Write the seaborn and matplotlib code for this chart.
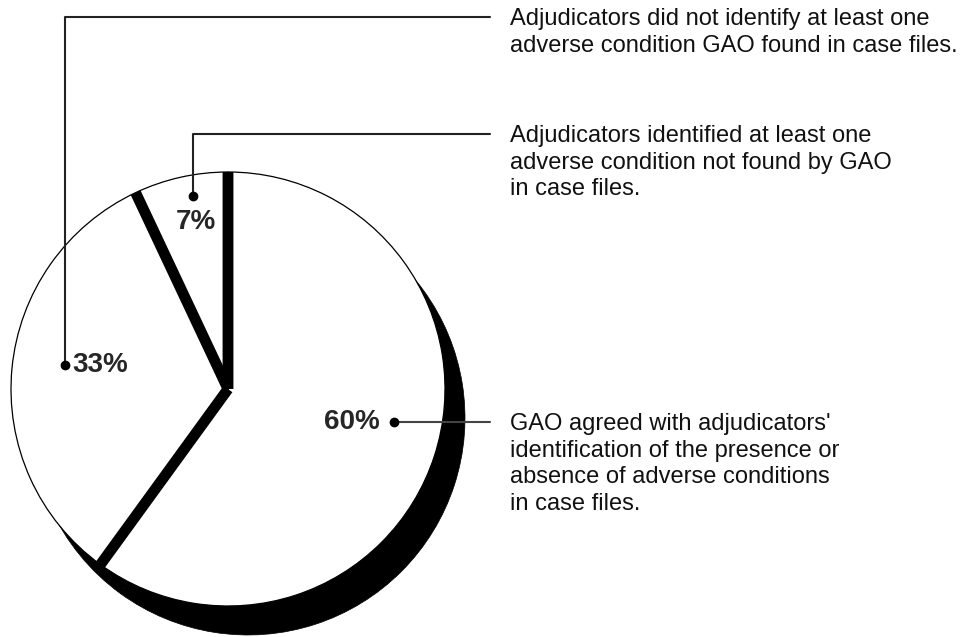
import matplotlib
matplotlib.use("Agg")
import matplotlib.pyplot as plt
import numpy as np
import seaborn as sns

# ---- data ----
categories = ["GAO agreed", "Did not identify", "Identified not found"]
shares = [60, 33, 7]
pct_labels = ["60%", "33%", "7%"]
desc_60 = ["GAO agreed with adjudicators'",
           "identification of the presence or",
           "absence of adverse conditions",
           "in case files."]
desc_33 = ["Adjudicators did not identify at least one",
           "adverse condition GAO found in case files."]
desc_7 = ["Adjudicators identified at least one",
          "adverse condition not found by GAO",
          "in case files."]

sns.set_theme(style="white")
plt.rcParams['font.family'] = ['Liberation Sans', 'DejaVu Sans']

W, H = 978, 637
fig = plt.figure(figsize=(W / 100, H / 100), dpi=100)
ax = fig.add_axes([0, 0, 1, 1])

def Y(y):
    return H - y

cx, cy, R = 228, 389, 217
shadow_dx, shadow_dy = 20, 29

# shadow / thickness
ax.pie(shares, startangle=90, counterclock=False,
       center=(cx + shadow_dx, Y(cy + shadow_dy)), radius=R,
       colors=["black"] * len(shares),
       wedgeprops=dict(edgecolor="black", linewidth=0.5, zorder=1))

# top face
wedges, _ = ax.pie(shares, startangle=90, counterclock=False,
                   center=(cx, Y(cy)), radius=R,
                   colors=["white"] * len(shares),
                   wedgeprops=dict(edgecolor="black", linewidth=0.9, zorder=2))
for w in wedges:
    w.set_zorder(2)

# thick separators at wedge boundaries
for w in wedges:
    ang = np.deg2rad(w.theta1)
    ax.plot([cx, cx + R * np.cos(ang)], [Y(cy), Y(cy) + R * np.sin(ang)],
            color="black", lw=7.8, solid_capstyle="butt", zorder=3)

body_fs = 17
lab_fs = 20
text_x = 510
line_dy = 26.5
lc = "#222222"

def desc(lines, y0):
    for i, t in enumerate(lines):
        ax.text(text_x, Y(y0 + 8 + i * line_dy), t, fontsize=body_fs,
                ha="left", va="baseline", color="#111111", zorder=6)

# 60% label
d60 = (394, 422)
ax.plot([d60[0], 490], [Y(d60[1]), Y(d60[1])], color="#444444", lw=1.5, zorder=4)
ax.plot([d60[0]], [Y(d60[1])], "o", color="black", ms=6, zorder=5)
ax.text(380, Y(422), pct_labels[0], fontsize=lab_fs, fontweight="bold",
        ha="right", va="center", zorder=6)
desc(desc_60, 422)

# 33% label
d33 = (65, 365)
ax.plot([d33[0], d33[0], 490], [Y(d33[1]), Y(17), Y(17)], color=lc, lw=1.5, zorder=4)
ax.plot([d33[0]], [Y(d33[1])], "o", color="black", ms=6, zorder=5)
ax.text(72, Y(365), pct_labels[1], fontsize=lab_fs, fontweight="bold",
        ha="left", va="center", zorder=6)
desc(desc_33, 17)

# 7% label
d7 = (193, 196)
ax.plot([d7[0], d7[0], 490], [Y(d7[1]), Y(134), Y(134)], color=lc, lw=1.5, zorder=4)
ax.plot([d7[0]], [Y(d7[1])], "o", color="black", ms=6, zorder=5)
ax.text(196, Y(222), pct_labels[2], fontsize=lab_fs, fontweight="bold",
        ha="center", va="center", zorder=6)
desc(desc_7, 134)

ax.set_xlim(0, W)
ax.set_ylim(0, H)
ax.set_aspect("equal")
ax.axis("off")
fig.savefig("out.png", dpi=100, facecolor="white")
